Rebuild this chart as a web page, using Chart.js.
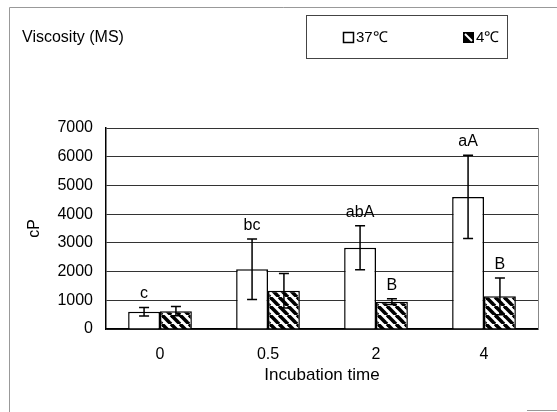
<!DOCTYPE html>
<html>
<head>
<meta charset="utf-8">
<script src="https://cdn.jsdelivr.net/npm/chart.js@4.4.1/dist/chart.umd.min.js"></script>
<style>
  html, body { margin: 0; padding: 0; background: #fff; }
  canvas { display: block; }
</style>
</head>
<body>
<canvas id="chart" width="557" height="412"></canvas>
<script>
// data
const categories = ['0', '0.5', '2', '4'];
const warmMeans = [600, 2080, 2830, 4600];     // 37℃
const warmErrors = [150, 1050, 770, 1450];
const coldMeans = [620, 1330, 950, 1140];      // 4℃
const coldErrors = [160, 600, 100, 640];
const warmLetters = ['c', 'bc', 'abA', 'aA'];
const coldLetters = ['', '', 'B', 'B'];

const FONT = '"Liberation Sans", Arial, sans-serif';

// diagonal hatch fill for the 4℃ bars
function makeHatch() {
  const s = 9;
  const c = document.createElement('canvas');
  c.width = s; c.height = s;
  const g = c.getContext('2d');
  g.fillStyle = '#fff';
  g.fillRect(0, 0, s, s);
  g.strokeStyle = '#000';
  g.lineWidth = 3.6;
  for (const x0 of [-s, 0, s]) {
    g.beginPath();
    g.moveTo(x0, 0);
    g.lineTo(x0 + s, s);
    g.stroke();
  }
  return g.createPattern(c, 'repeat');
}
const hatch = makeHatch();

const errors = [warmErrors, coldErrors];
const letters = [warmLetters, coldLetters];

// error bars, letters, frame, title and legend box
const extras = {
  id: 'extras',
  beforeDraw(chart) {
    const ctx = chart.ctx;
    ctx.save();
    ctx.fillStyle = '#fff';
    ctx.fillRect(0, 0, chart.width, chart.height);
    ctx.restore();
  },
  afterDatasetsDraw(chart) {
    const ctx = chart.ctx;
    const y = chart.scales.y;
    ctx.save();
    ctx.strokeStyle = '#000';
    ctx.lineWidth = 1.5;
    chart.data.datasets.forEach((ds, i) => {
      const meta = chart.getDatasetMeta(i);
      meta.data.forEach((bar, j) => {
        const v = ds.data[j];
        const e = errors[i][j];
        const top = y.getPixelForValue(v + e);
        const bot = y.getPixelForValue(v - e);
        ctx.beginPath();
        ctx.moveTo(bar.x, top); ctx.lineTo(bar.x, bot);
        ctx.moveTo(bar.x - 5, top); ctx.lineTo(bar.x + 5, top);
        ctx.moveTo(bar.x - 5, bot); ctx.lineTo(bar.x + 5, bot);
        ctx.stroke();
        const t = letters[i][j];
        if (t) {
          ctx.fillStyle = '#000';
          ctx.font = '16px ' + FONT;
          ctx.textAlign = 'center';
          ctx.textBaseline = 'alphabetic';
          ctx.fillText(t, bar.x, top - 9);
        }
      });
    });
    ctx.restore();
  },
  afterDraw(chart) {
    const ctx = chart.ctx;
    const area = chart.chartArea;
    ctx.save();
    // right border of plot area
    ctx.strokeStyle = '#888';
    ctx.lineWidth = 1;
    ctx.beginPath();
    ctx.moveTo(area.right + 0.5, area.top);
    ctx.lineTo(area.right + 0.5, area.bottom);
    ctx.stroke();
    // outer frame
    ctx.strokeStyle = '#999';
    ctx.beginPath();
    ctx.moveTo(9.5, 412); ctx.lineTo(9.5, 7.5); ctx.lineTo(557, 7.5);
    ctx.moveTo(527, 410.5); ctx.lineTo(557, 410.5);
    ctx.stroke();
    // title
    ctx.fillStyle = '#000';
    ctx.font = '16px ' + FONT;
    ctx.textAlign = 'left';
    ctx.textBaseline = 'middle';
    ctx.fillText('Viscosity (MS)', 22, 38);
    // legend box
    ctx.strokeStyle = '#444';
    ctx.strokeRect(306.5, 15.5, 201, 43);
    ctx.lineWidth = 1.5;
    ctx.strokeStyle = '#000';
    ctx.fillStyle = '#fff';
    ctx.fillRect(343.5, 32.5, 10, 10);
    ctx.strokeRect(343.5, 32.5, 10, 10);
    ctx.fillStyle = '#000';
    ctx.fillRect(463, 32, 11, 11);
    ctx.strokeStyle = '#fff';
    ctx.lineWidth = 2;
    ctx.beginPath();
    ctx.moveTo(465, 34); ctx.lineTo(472, 41);
    ctx.stroke();
    ctx.fillStyle = '#000';
    ctx.font = '15px ' + FONT;
    ctx.fillText('37℃', 356, 38);
    ctx.fillText('4℃', 476, 38);
    ctx.restore();
  }
};

new Chart(document.getElementById('chart'), {
  type: 'bar',
  data: {
    labels: categories,
    datasets: [
      {
        label: '37℃',
        data: warmMeans,
        backgroundColor: '#fff',
        borderColor: '#000',
        borderWidth: 1.5,
        categoryPercentage: 0.59,
        barPercentage: 1
      },
      {
        label: '4℃',
        data: coldMeans,
        backgroundColor: hatch,
        borderColor: '#000',
        borderWidth: 1.5,
        categoryPercentage: 0.59,
        barPercentage: 1
      }
    ]
  },
  options: {
    responsive: false,
    animation: false,
    layout: { padding: { top: 128, right: 19, left: 0, bottom: 0 } },
    plugins: {
      legend: { display: false },
      tooltip: { enabled: false }
    },
    scales: {
      x: {
        grid: { display: false, drawTicks: false },
        border: { color: '#000', width: 1.5 },
        ticks: { color: '#000', font: { family: FONT, size: 16 }, padding: 16, maxRotation: 0 },
        title: {
          display: true, text: 'Incubation time', color: '#000',
          font: { family: FONT, size: 17 }, padding: { top: 0, bottom: 26 }
        },
        afterFit: s => { s.height = 83; }
      },
      y: {
        min: 0,
        max: 7000,
        ticks: {
          stepSize: 1000, color: '#000', padding: 13,
          font: { family: FONT, size: 16 },
          callback: v => String(v)
        },
        grid: { color: '#333', lineWidth: 1, drawTicks: false },
        border: { color: '#000', width: 1.5 },
        title: {
          display: true, text: 'cP', color: '#000',
          font: { family: FONT, size: 16 }, padding: { top: 25, bottom: 0 }
        },
        afterFit: s => { s.width = 106; }
      }
    }
  },
  plugins: [extras]
});
</script>
</body>
</html>
